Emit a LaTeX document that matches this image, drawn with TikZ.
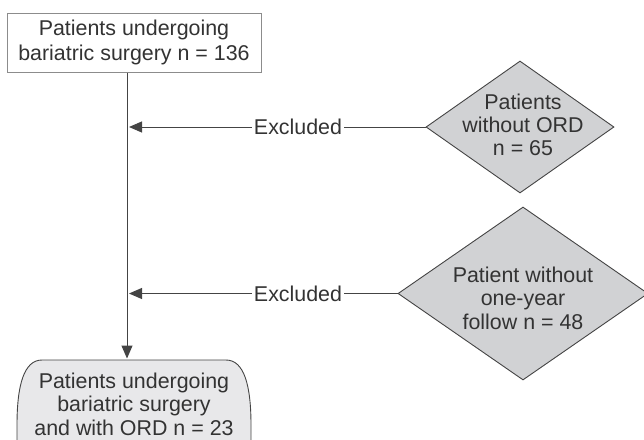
\documentclass[tikz,border=0pt]{standalone}
\usepackage{fontspec}
\setmainfont{Liberation Sans}
\usetikzlibrary{shapes.geometric,arrows.meta}
\definecolor{linec}{HTML}{444444}
\definecolor{txtc}{HTML}{333333}
\definecolor{dfill}{HTML}{D1D2D4}
\definecolor{bfill}{HTML}{E8E8EA}
\definecolor{boxc}{HTML}{8C8C8C}
\begin{document}
\begin{tikzpicture}[x=1pt,y=-1pt,
  txt/.style={text=txtc, align=center, inner sep=0pt, font=\fontsize{21.4}{23.5}\selectfont},
  topbox/.style={draw=boxc, line width=1pt, fill=white, minimum width=254pt, minimum height=59pt, inner sep=0pt, align=center, text=txtc, font=\fontsize{21.4}{25}\selectfont},
  dbox/.style={shape=diamond, draw=linec, line width=0.9pt, fill=dfill, inner sep=0pt},
  arr/.style={draw=linec, line width=1pt, -{Triangle[length=13pt,width=11pt]}},
  lbl/.style={fill=white, text=txtc, inner sep=1.5pt, font=\fontsize{21.4}{25}\selectfont}]
\useasboundingbox (0,0) rectangle (644,439);
\clip (0,0) rectangle (644,439);
% top box
\node[topbox] (top) at (134,42.5) {Patients undergoing\\bariatric surgery n = 136};
% bottom terminal shape
\draw[draw=linec, line width=0.9pt, fill=bfill] (19,470) .. controls (17,450) .. (17,425) .. controls (17,385) and (24,360) .. (42,360) -- (226,360) .. controls (244,360) and (251,385) .. (251,425) .. controls (251,450) .. (249,470);
\node[txt] (bot) at (134,404) {Patients undergoing\\bariatric surgery\\and with ORD n = 23};
% diamonds
\node[dbox, minimum width=188pt, minimum height=132pt] (d1) at (520,127) {};
\node[txt, font=\fontsize{21.4}{23}\selectfont] (t1) at (523,125) {Patients\\without ORD\\n = 65};
\node[dbox, minimum width=250pt, minimum height=173pt] (d2) at (523,293.5) {};
\node[txt, font=\fontsize{21.4}{23.5}\selectfont] (t2) at (523,298) {Patient without\\one-year\\follow n = 48};
% connectors
\coordinate (vb) at (127,358.5);
\coordinate (xl) at (129,0);
\draw[arr] (top.south -| vb) -- (vb);
\draw[arr] (d1.west) -- (d1.west -| xl);
\draw[arr] (d2.west) -- (d2.west -| xl);
\node[lbl] (e1) at (298,127) {Excluded};
\node[lbl] (e2) at (298,294) {Excluded};
\end{tikzpicture}
\end{document}
